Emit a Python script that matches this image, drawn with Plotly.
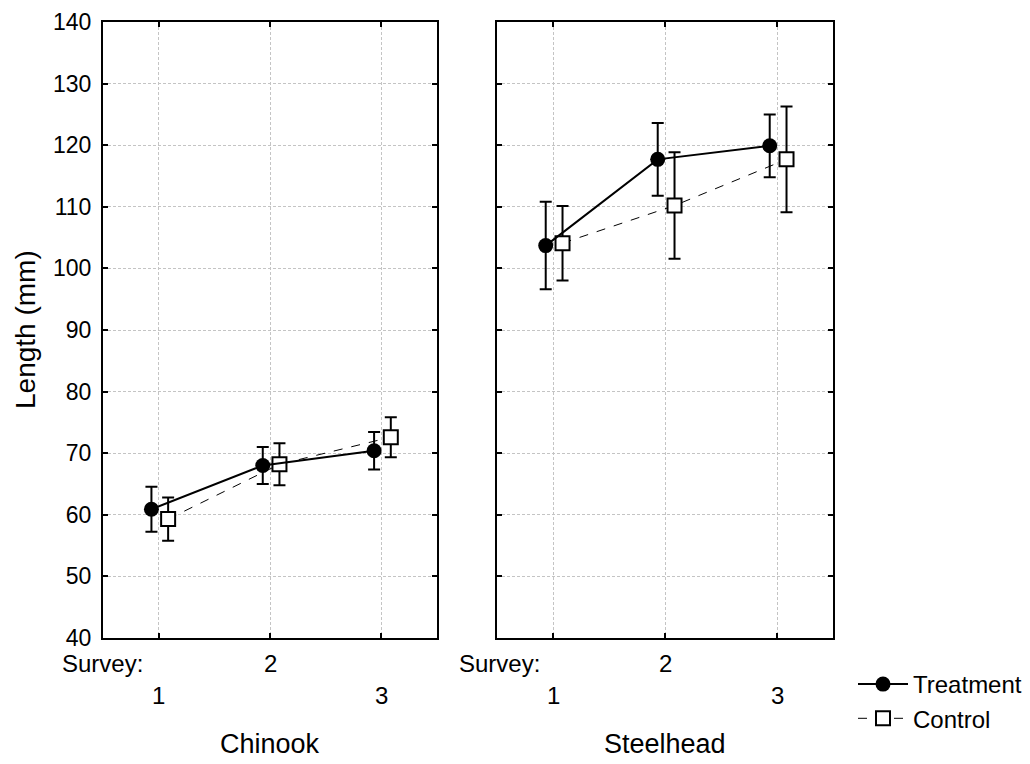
import plotly.graph_objects as go

surveys = [1, 2, 3]
survey_labels = ["1", "2", "3"]
species = ["Chinook", "Steelhead"]

chinook_treat = [60.9, 68.0, 70.4]
chinook_treat_err = [3.65, 3.0, 3.05]
chinook_ctrl = [59.3, 68.2, 72.6]
chinook_ctrl_err = [3.5, 3.4, 3.25]

steel_treat = [103.7, 117.7, 119.9]
steel_treat_err = [7.1, 5.9, 5.1]
steel_ctrl = [104.1, 110.2, 117.7]
steel_ctrl_err = [6.05, 8.65, 8.6]

y_ticks = [40, 50, 60, 70, 80, 90, 100, 110, 120, 130, 140]

offset_treat = -0.065
offset_ctrl = 0.085

FONT = "Liberation Sans, Arial, sans-serif"
def F(size):
    return dict(family=FONT, size=size, color="black")

fig = go.Figure()

panels = [
    ("x", "y", chinook_treat, chinook_treat_err, chinook_ctrl, chinook_ctrl_err, True),
    ("x2", "y2", steel_treat, steel_treat_err, steel_ctrl, steel_ctrl_err, False),
]
for xa, ya, tv, te, cv, ce, show in panels:
    fig.add_trace(go.Scatter(
        x=[s + offset_ctrl for s in surveys], y=cv, xaxis=xa, yaxis=ya,
        mode="lines+markers", name="Control", showlegend=show, legendrank=2,
        line=dict(color="black", width=1, dash="dash"),
        marker=dict(symbol="square", size=14, color="white", line=dict(color="black", width=2)),
        error_y=dict(type="data", array=ce, color="black", thickness=2, width=6),
    ))
    fig.add_trace(go.Scatter(
        x=[s + offset_treat for s in surveys], y=tv, xaxis=xa, yaxis=ya,
        mode="lines+markers", name="Treatment", showlegend=show, legendrank=1,
        line=dict(color="black", width=2),
        marker=dict(symbol="circle", size=15, color="black"),
        error_y=dict(type="data", array=te, color="black", thickness=2, width=6),
    ))

axis_common = dict(
    showline=True, linecolor="black", linewidth=2, mirror="ticks",
    ticks="inside", ticklen=5, tickwidth=2, tickcolor="black",
    showgrid=True, gridcolor="#c4c4c4", gridwidth=1, griddash="3px,2px",
    zeroline=False, automargin=False, tickfont=F(23),
)

ydom = [(764 - 638) / 764, (764 - 22) / 764]
fig.update_layout(
    width=1030, height=764,
    margin=dict(l=0, r=0, t=0, b=0),
    paper_bgcolor="white", plot_bgcolor="white",
    font=F(23),
    xaxis=dict(domain=[103 / 1030, 437 / 1030], range=[0.5, 3.5], tickvals=surveys,
               showticklabels=False, **axis_common),
    xaxis2=dict(domain=[497 / 1030, 833 / 1030], range=[0.5, 3.5], tickvals=surveys,
                showticklabels=False, **axis_common),
    yaxis=dict(domain=ydom, range=[40, 140], tickvals=y_ticks, anchor="x",
               ticklabelstandoff=5, **axis_common),
    yaxis2=dict(domain=ydom, range=[40, 140], tickvals=y_ticks, anchor="x2",
                showticklabels=False, **axis_common),
    legend=dict(x=853 / 1030, y=1 - 662 / 764, xanchor="left", yanchor="top",
                font=F(24), bgcolor="rgba(0,0,0,0)", tracegroupgap=0,
                itemwidth=50),
)

# y-axis title
fig.add_annotation(x=25 / 1030, y=1 - 330 / 764, xref="paper", yref="paper",
                   text="Length (mm)", textangle=-90, showarrow=False,
                   xanchor="center", yanchor="middle", font=F(28))

# Survey tick labels (staggered) and species titles
for xref, sp, shift in [("x", species[0], -43), ("x2", species[1], -40)]:
    fig.add_annotation(x=0.5, y=1 - 663 / 764, xref=xref, yref="paper", text="Survey:",
                       showarrow=False, xanchor="left", yanchor="middle", xshift=shift, font=F(24))
    for i, (s, lab) in enumerate(zip(surveys, survey_labels)):
        ypix = 663 if i % 2 == 1 else 695
        fig.add_annotation(x=s, y=1 - ypix / 764, xref=xref, yref="paper", text=lab,
                           showarrow=False, xanchor="center", yanchor="middle", font=F(24))
    fig.add_annotation(x=2, y=1 - 744 / 764, xref=xref, yref="paper", text=sp,
                       showarrow=False, xanchor="center", yanchor="middle", font=F(27))

fig.write_html("out.html")
